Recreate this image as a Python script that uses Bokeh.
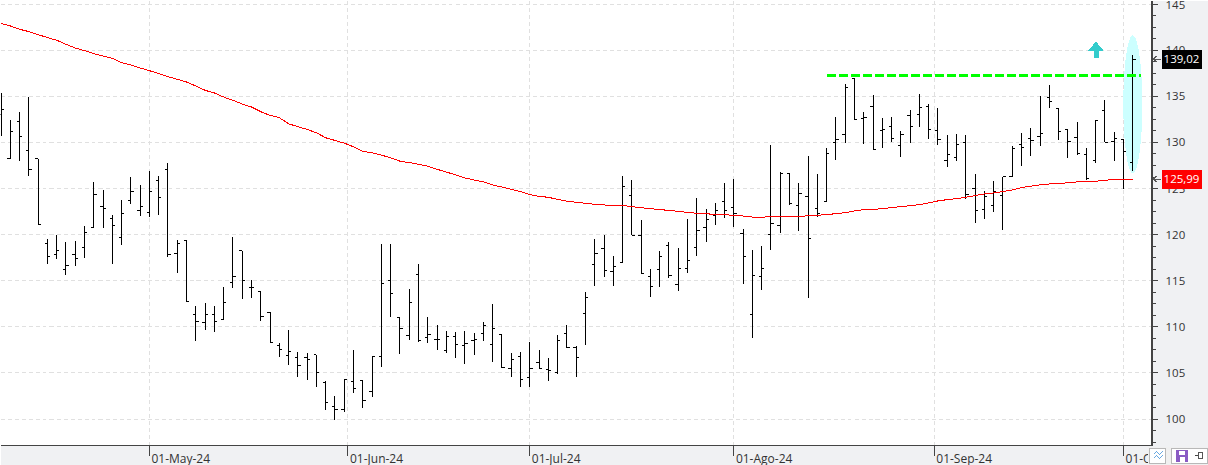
from bokeh.embed import file_html
from bokeh.resources import INLINE
from bokeh.plotting import figure
from bokeh.core.properties import value
from bokeh.models import ColumnDataSource, FixedTicker, LinearAxis, Range1d
import numpy as np

opens = [133.0,128.26,132.32,129.13,128.26,119.02,117.83,116.20,117.83,118.63,120.73,123.01,121.74,119.71,123.70,122.61,122.36,125.87,127.07,117.94,119.35,111.31,110.47,111.31,110.84,114.79,118.26,114.31,113.81,111.56,107.94,106.85,106.64,106.64,106.96,103.92,101.31,100.98,104.09,104.17,102.94,106.74,115.0,111.04,109.05,115.68,108.8,108.62,107.42,108.98,108.0,108.54,109.27,108.07,109.2,105.46,106.77,104.49,106.12,105.36,105.03,109.27,107.75,111.44,116.77,118.51,116.01,116.99,124.27,119.92,115.46,116.22,118.83,114.59,116.33,118.62,120.79,122.09,123.65,122.96,120.17,111.33,115.46,120.0,120.98,126.63,123.15,124.13,122.83,123.55,130.0,130.87,136.9,132.6,133.91,131.3,131.74,129.64,132.93,133.04,133.91,131.3,128.04,128.37,130.0,125.0,122.72,123.15,124.24,126.3,129.78,130.43,130.65,134.89,133.69,131.41,130.54,128.69,128.04,133.48,130.11,130.36,127.79]
highs = [135.37,132.39,133.30,134.97,128.26,119.57,120.0,119.17,119.28,120.98,125.69,124.82,122.10,123.74,126.23,125.37,126.89,126.34,127.76,119.39,119.42,112.21,112.54,112.21,114.28,119.71,118.26,115.11,113.81,111.56,108.23,109.68,107.29,107.21,106.96,104.09,102.54,104.24,107.5,104.24,106.74,119.02,119.02,111.04,114.05,116.77,111.04,110.25,109.59,109.49,109.59,109.38,110.57,112.53,109.2,107.2,107.31,108.4,107.53,106.66,109.09,110.25,107.96,113.83,119.49,119.96,117.64,126.33,125.9,121.55,116.22,118.18,119.16,118.51,121.66,123.94,122.75,123.4,125.57,126.01,120.57,118.29,118.72,129.71,126.85,126.63,125.58,128.51,126.56,129.35,132.75,136.3,136.96,133.3,135.14,132.64,132.75,131.2,133.48,135.22,134.13,133.7,130.76,130.87,130.76,126.63,124.78,125.87,126.3,129.67,131.08,131.52,135.0,136.23,133.69,131.41,132.17,129.45,132.39,134.56,131.19,130.36,139.49]
lows = [130.69,128.26,127.97,126.34,121.0,116.81,117.36,115.62,116.56,117.47,120.73,120.73,116.81,118.88,123.34,122.03,121.92,122.1,117.58,115.8,112.68,108.41,109.71,109.42,110.84,114.2,112.97,113.12,110.62,108.23,106.71,105.91,104.53,104.2,103.45,100.94,99.93,100.8,102.79,101.24,102.43,105.69,111.05,107.06,108.54,108.4,108.25,107.49,107.17,106.62,105.97,106.95,108.43,106.19,105.54,104.56,103.47,103.47,105.46,104.12,104.92,107.71,104.56,108.04,114.45,115.43,114.45,116.99,119.92,115.75,113.25,114.34,115.32,113.91,115.86,117.71,119.23,121.08,121.84,120.86,114.67,108.8,114.01,118.33,120.18,123.26,120.36,113.12,121.92,123.55,128.08,129.96,132.39,129.82,129.2,129.38,130.04,128.4,129.96,131.7,130.36,129.71,127.32,127.97,123.88,121.23,121.67,122.46,120.5,126.3,127.46,128.55,129.64,133.77,130.29,128.33,128.69,125.98,127.72,130.0,128.0,124.96,126.88]
closes = [133.59,131.24,130.69,127.07,121.09,117.65,118.26,116.67,117.39,120.18,124.35,122.83,120.98,122.29,124.71,123.05,124.71,124.03,117.83,119.06,112.76,110.58,111.31,110.58,112.61,115.43,115.0,114.31,111.09,108.34,107.5,107.29,105.76,106.42,105.0,101.74,100.98,104.24,103.26,101.96,106.74,114.68,113.59,109.81,112.64,108.47,109.16,108.62,108.94,108.07,108.18,108.62,110.14,109.81,105.64,106.44,104.27,105.46,105.46,105.25,108.51,107.75,106.66,113.18,117.96,116.12,116.55,125.25,119.92,115.75,114.38,117.64,115.57,116.33,117.2,120.46,121.66,122.64,122.64,122.31,117.64,115.57,116.33,121.2,126.63,123.33,124.46,119.57,122.25,128.8,130.33,135.98,132.46,132.72,129.27,131.41,130.43,130.87,131.74,133.8,131.41,130.33,128.7,129.78,124.35,122.61,124.13,124.71,126.3,129.35,129.45,130.22,130.98,134.45,131.19,130.11,128.77,126.05,132.39,130.0,130.43,129.02,139.02]
ma200 = [142.90,142.64,142.28,142.03,141.70,141.38,141.09,140.65,140.25,139.96,139.64,139.39,139.13,138.66,138.41,138.08,137.79,137.47,137.14,136.85,136.56,136.13,135.66,135.37,134.93,134.57,134.17,133.85,133.34,132.94,132.69,132.03,131.71,131.42,131.05,130.51,130.22,129.93,129.53,129.03,128.88,128.63,128.34,127.97,127.82,127.64,127.42,127.09,126.80,126.48,126.15,125.93,125.72,125.39,125.17,124.92,124.67,124.34,124.16,124.05,123.83,123.62,123.51,123.40,123.29,123.22,123.18,123.18,123.04,122.93,122.82,122.71,122.64,122.53,122.42,122.31,122.28,122.17,122.17,122.09,122.02,121.91,121.88,121.99,121.96,121.96,121.96,122.06,122.10,122.17,122.28,122.39,122.57,122.72,122.72,122.83,122.93,123.04,123.15,123.26,123.44,123.66,123.80,123.91,124.06,124.24,124.42,124.53,124.67,124.85,125.11,125.25,125.40,125.50,125.58,125.61,125.72,125.79,125.79,125.90,125.98,125.98,125.99]

x_tick_pos = [16, 37.4, 57, 79, 100.6, 121]
x_tick_labels = ["01-May-24", "01-Jun-24", "01-Jul-24", "01-Ago-24", "01-Sep-24", "01-Oct-24"]
y_ticks = [100, 105, 110, 115, 120, 125, 130, 135, 140, 145]
resistance_level = 137.26
last_close = 139.02
last_ma = 125.99

PX_PER_BAR = 9.277
PX_PER_UNIT = 9.218
FONT = "Open Sans"
FRAME_W, FRAME_H = 1151, 445
X = lambda px: (px - 0.5) / PX_PER_BAR
Y = lambda py: 145 - (py - 3.7) / PX_PER_UNIT
BG = "#f0f1f3"

p = figure(width=1208, height=465, output_backend="svg", toolbar_location=None,
           x_range=Range1d(X(0), X(FRAME_W)), y_range=Range1d(Y(FRAME_H), Y(0)),
           min_border_left=0, min_border_top=0, min_border_right=57, min_border_bottom=20,
           frame_width=FRAME_W, frame_height=FRAME_H, background_fill_color="white",
           border_fill_color=BG, outline_line_color=None,
           y_axis_location=None, x_axis_location=None, margin=0)
p.styles = {"shape-rendering": "crispEdges"}

AX = "#444444"
xa = LinearAxis(ticker=FixedTicker(ticks=x_tick_pos), axis_line_color=AX, axis_line_width=1,
                major_tick_line_color=AX, major_tick_out=10, major_tick_in=0,
                minor_tick_line_color=None, major_label_text_color=None,
                major_label_text_font_size="1px")
p.add_layout(xa, "below")
minor = [97.5 + 1.25 * k for k in range(40) if (97.5 + 1.25 * k) % 5 != 0]
ya = LinearAxis(ticker=FixedTicker(ticks=y_ticks, minor_ticks=minor), axis_line_color=AX, axis_line_width=2,
                major_tick_line_color=AX, major_tick_out=6, major_tick_in=0,
                minor_tick_line_color=AX, minor_tick_out=4, minor_tick_in=0,
                major_label_text_font=FONT, major_label_text_font_size="11.5px",
                major_label_text_color="#333333", major_label_standoff=8,
                major_label_orientation="horizontal")
p.add_layout(ya, "right")

p.xgrid.ticker = FixedTicker(ticks=x_tick_pos)
p.ygrid.ticker = FixedTicker(ticks=y_ticks)
for g in (p.xgrid, p.ygrid):
    g.grid_line_color = "#e0e0e0"
    g.grid_line_dash = "4 3"
    g.grid_line_width = 1

idx = np.arange(len(closes))
src = ColumnDataSource(dict(i=idx, il=idx - 0.3, ir=idx + 0.3, o=opens, h=highs, l=lows, c=closes, ma=ma200))

p.ellipse(x=[122], y=[134.14], width=2.05, height=14.95, fill_color="#ccffff", line_color=None)
p.segment("i", "l", "i", "h", source=src, line_color="black", line_width=1)
p.segment("il", "o", "i", "o", source=src, line_color="black", line_width=1)
p.segment("i", "c", "ir", "c", source=src, line_color="black", line_width=1)
p.line("i", "ma", source=src, line_color="#ff0000", line_width=1)
p.line([89, 122.9], [resistance_level, resistance_level], line_color="#00ff00", line_width=3, line_dash="9 3")

# up arrow
p.patch([X(v) for v in (1095.5, 1103, 1098, 1098, 1093, 1093, 1088)],
        [Y(v) for v in (41, 50, 50, 57, 57, 50, 50)], fill_color="#33cccc", line_color=None)

def box(x0, x1, y0, y1, color, line=None):
    p.quad(left=[X(x0)], right=[X(x1)], top=[Y(y0)], bottom=[Y(y1)], fill_color=color,
           line_color=line, level="overlay")

def path(xs, ys, color):
    p.line([X(v) for v in xs], [Y(v) for v in ys], line_color=color, line_width=1, level="overlay")

def txt(x, y, s, color, size, align):
    p.text(x=[x], y=[y], text=[s], text_font=value(FONT), text_font_size=value(size), text_color=color,
           text_align=align, text_baseline="middle", level="overlay")

# date labels, left-aligned beside their tick marks
for pos, s in zip(x_tick_pos, x_tick_labels):
    txt(pos + 2 / PX_PER_BAR, Y(457.5), s, "#333333", "12px", "left")

# value flags
for val, color, py0, py1 in [(last_close, "black", 49, 68), (last_ma, "#ff0000", 169, 188)]:
    box(1161, 1201, py0, py1, color)
    txt(X(1181), Y((py0 + py1) / 2), f"{val:.2f}".replace(".", ","), "white", "11.5px", "center")
    ym = (py0 + py1) / 2
    path([1160, 1153, 1156, 1153, 1156], [ym, ym, ym - 3, ym, ym + 3], "#555555")

# bottom-right buttons
box(1147, 1208, 446, 465, "#f0f0f0")
box(1149, 1165, 448, 463, "white", "#b8b8b8")
box(1171, 1207, 448, 463, "white", "#b8b8b8")
path([1153, 1156, 1159, 1162], [454, 451, 454, 451], "#6aa9e0")
path([1153, 1156, 1159, 1162], [458, 455, 458, 455], "#6aa9e0")
box(1175, 1187, 449, 461, "#8a5bc4")
box(1178, 1184, 450, 454, "white")
box(1179, 1184, 456, 461, "white")
path([1194, 1198], [455, 455], "#444444")
box(1198, 1202, 452, 458, "white", "#555555")

open("out.html", "w").write(file_html(p, INLINE))
